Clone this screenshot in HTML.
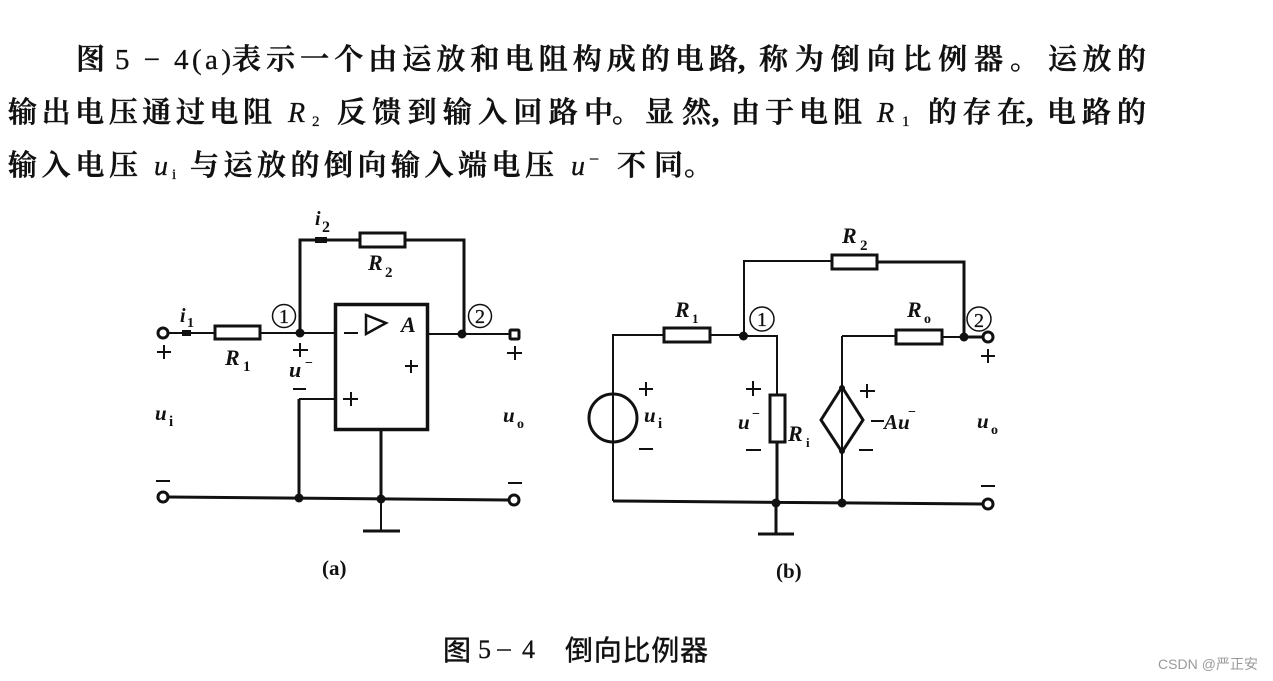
<!DOCTYPE html>
<html><head><meta charset="utf-8">
<style>
html,body{margin:0;padding:0;background:#fff;width:1273px;height:681px;overflow:hidden}
svg{display:block}
.c{font-family:"Liberation Serif","Noto Serif CJK SC",serif;font-size:29px;font-weight:600;fill:#111;stroke:#111;stroke-width:.5px}
.l{font-family:"Liberation Serif",serif;font-weight:700;fill:#111}
.i{font-style:italic}
.w{fill:none;stroke:#111;stroke-width:2}
.t{fill:none;stroke:#111;stroke-width:3}
.b{fill:#fff;stroke:#111;stroke-width:3}
.g{font-family:"Liberation Serif",serif;fill:#111;stroke:#111;stroke-width:.3px}
.k{font-family:"Noto Sans CJK SC",sans-serif;font-size:28px;fill:#111;stroke:#111;stroke-width:.4px}
</style></head><body>
<svg width="1273" height="681" viewBox="0 0 1273 681" xmlns="http://www.w3.org/2000/svg">
<!-- paragraph -->
<text class="c" x="76" y="69">图</text>
<text class="g" x="115" y="69" font-size="29" textLength="116">5 − 4(a)</text>
<text class="c" x="232" y="69" textLength="506">表示一个由运放和电阻构成的电路</text>
<text class="c" x="738" y="69">,</text>
<text class="c" x="759" y="69" textLength="280">称为倒向比例器。</text>
<text class="c" x="1048" y="69" textLength="98">运放的</text>

<text class="c" x="8" y="122" textLength="264">输出电压通过电阻</text>
<text class="g i" x="288" y="122" font-size="28">R</text><text class="g" x="312" y="126" font-size="15">2</text>
<text class="c" x="337" y="122" textLength="276">反馈到输入回路中</text>
<text class="c" x="612" y="122">。</text>
<text class="c" x="645" y="122" textLength="66">显然</text>
<text class="c" x="712" y="122">,</text>
<text class="c" x="731" y="122" textLength="131">由于电阻</text>
<text class="g i" x="877" y="122" font-size="28">R</text><text class="g" x="902" y="126" font-size="15">1</text>
<text class="c" x="928" y="122" textLength="98">的存在</text>
<text class="c" x="1026" y="122">,</text>
<text class="c" x="1047" y="122" textLength="99">电路的</text>

<text class="c" x="8" y="175" textLength="130">输入电压</text>
<text class="g i" x="154" y="175" font-size="28">u</text><text class="g" x="172" y="179" font-size="15">i</text>
<text class="c" x="190" y="175" textLength="364">与运放的倒向输入端电压</text>
<text class="g i" x="571" y="175" font-size="28">u</text><text class="g" x="589" y="165" font-size="18">−</text>
<text class="c" x="617" y="175" textLength="66">不同</text>
<text class="c" x="684" y="175" font-size="20">。</text>

<!-- circuit (a) -->
<g>
<path class="w" d="M168 333H214M260 333H334"/>
<path class="t" d="M300 333V240H359M405 240H464V334M381 430V498"/>
<path class="w" d="M428 334H509M334 399H299M381 499V532"/>
<path class="t" d="M299 399V498M168 497L508 500"/>
<path class="t" d="M363 531H400"/>
<rect class="b" x="215" y="326" width="45" height="13"/>
<rect class="b" x="360" y="233" width="45" height="14"/>
<rect x="335.500" y="304.500" width="92" height="125" fill="#fff" stroke="#111" stroke-width="3.500"/>
<circle cx="163" cy="333" r="5" fill="#fff" stroke="#111" stroke-width="3"/>
<circle cx="163" cy="497" r="5" fill="#fff" stroke="#111" stroke-width="3"/>
<circle cx="514" cy="500" r="5" fill="#fff" stroke="#111" stroke-width="3"/>
<rect x="510" y="330" width="9" height="9" rx="1" fill="#fff" stroke="#111" stroke-width="3"/>
<circle cx="300" cy="333" r="4.500" fill="#111"/><circle cx="462" cy="334" r="4.500" fill="#111"/>
<circle cx="299" cy="498" r="4.500" fill="#111"/><circle cx="381" cy="499" r="4.500" fill="#111"/>
<rect x="182" y="330" width="9" height="6" fill="#111"/><rect x="315" y="237" width="12" height="6" fill="#111"/>
<path d="M366 315L386 323L366 334Z" fill="#fff" stroke="#111" stroke-width="2.500"/>
<path class="w" d="M344 333H358M343 399H358M351 392V406M405 366H418M411 360V373"/>
<circle cx="284" cy="316" r="11.500" fill="none" stroke="#111" stroke-width="1.500"/>
<circle cx="480" cy="316" r="11.500" fill="none" stroke="#111" stroke-width="1.500"/>
<text class="g" x="279" y="323" font-size="20">1</text><text class="g" x="475" y="323" font-size="20">2</text>
<path class="w" d="M157 352H171M164 345V359M293 350H308M300 343V357M507 353H522M515 346V360M293 389H306M156 481H170M508 483H522"/>
<text class="l i" x="180" y="322" font-size="20">i</text><text class="l" x="187" y="327" font-size="14">1</text>
<text class="l i" x="315" y="225" font-size="20">i</text><text class="l" x="322" y="232" font-size="16">2</text>
<text class="l i" x="368" y="270" font-size="22">R</text><text class="l" x="385" y="277" font-size="15">2</text>
<text class="l i" x="225" y="365" font-size="22">R</text><text class="l" x="243" y="371" font-size="15">1</text>
<text class="l i" x="401" y="332" font-size="22">A</text>
<text class="l i" x="289" y="377" font-size="22">u</text><text class="l" x="305" y="367" font-size="14">−</text>
<text class="l i" x="155" y="420" font-size="21">u</text><text class="l" x="169" y="426" font-size="15">i</text>
<text class="l i" x="503" y="422" font-size="21">u</text><text class="l" x="517" y="428" font-size="14">o</text>
<text class="l" x="322" y="575" font-size="21">(a)</text>
</g>

<!-- circuit (b) -->
<g>
<path class="w" d="M663 335H613V501M710 335H744V261H832M744 336H777V395M842 336H895M943 337H964M842 336V503"/>
<path class="t" d="M877 262H964V337M964 337H983M777 442V503M613 501L983 504M776 503V534M758 534H794"/>
<rect class="b" x="664" y="328" width="46" height="14"/>
<rect class="b" x="832" y="255" width="45" height="14"/>
<rect class="b" x="896" y="330" width="46" height="14"/>
<rect class="b" x="770" y="395" width="15" height="47"/>
<circle cx="613" cy="418" r="24" fill="none" stroke="#111" stroke-width="3"/>
<path d="M613 393V443" stroke="#111" stroke-width="2"/>
<path d="M842 387L863 420L842 452L821 420Z" fill="none" stroke="#111" stroke-width="3"/>
<circle cx="743.500" cy="336" r="4.500" fill="#111"/><circle cx="964" cy="337" r="4.500" fill="#111"/>
<circle cx="776" cy="503" r="4.500" fill="#111"/><circle cx="842" cy="503" r="4.500" fill="#111"/>
<circle cx="842" cy="388" r="3" fill="#111"/><circle cx="842" cy="451" r="3" fill="#111"/>
<circle cx="988" cy="337" r="5" fill="#fff" stroke="#111" stroke-width="3"/>
<circle cx="988" cy="504" r="5" fill="#fff" stroke="#111" stroke-width="3"/>
<circle cx="762" cy="319" r="12" fill="none" stroke="#111" stroke-width="1.500"/>
<circle cx="979" cy="319" r="12" fill="none" stroke="#111" stroke-width="1.500"/>
<text class="g" x="757" y="326" font-size="20">1</text><text class="g" x="974" y="327" font-size="20">2</text>
<path class="w" d="M639 389H653M646 382V396M639 449H653M746 389H761M753 381V396M746 450H761M860 391H875M867 384V398M859 450H873M981 356H995M988 349V363M981 486H995"/>
<text class="l i" x="675" y="317" font-size="22">R</text><text class="l" x="692" y="323" font-size="13">1</text>
<text class="l i" x="842" y="243" font-size="22">R</text><text class="l" x="860" y="250" font-size="15">2</text>
<text class="l i" x="907" y="317" font-size="22">R</text><text class="l" x="924" y="323" font-size="14">o</text>
<text class="l i" x="644" y="422" font-size="21">u</text><text class="l" x="658" y="428" font-size="15">i</text>
<text class="l i" x="738" y="429" font-size="21">u</text><text class="l" x="752" y="418" font-size="14">−</text>
<text class="l i" x="788" y="441" font-size="22">R</text><text class="l" x="806" y="447" font-size="13">i</text>
<text class="l i" x="884" y="429" font-size="21">Au</text><path class="w" d="M871 421H884"/><text class="l" x="908" y="416" font-size="14">−</text>
<text class="l i" x="977" y="428" font-size="21">u</text><text class="l" x="991" y="434" font-size="14">o</text>
<text class="l" x="776" y="578" font-size="21">(b)</text>
</g>

<!-- caption -->
<text class="k" x="443" y="660">图</text>
<text class="g" x="478" y="658" font-size="26">5</text>
<path d="M497 650H511" stroke="#111" stroke-width="1.500"/>
<text class="g" x="522" y="658" font-size="26">4</text>
<text class="k" x="565" y="660" textLength="143">倒向比例器</text>

<text x="1158" y="669" font-size="14" textLength="100" font-family="'Liberation Sans','Noto Sans CJK SC',sans-serif" fill="#9a9a9a">CSDN @严正安</text>
</svg>
</body></html>
